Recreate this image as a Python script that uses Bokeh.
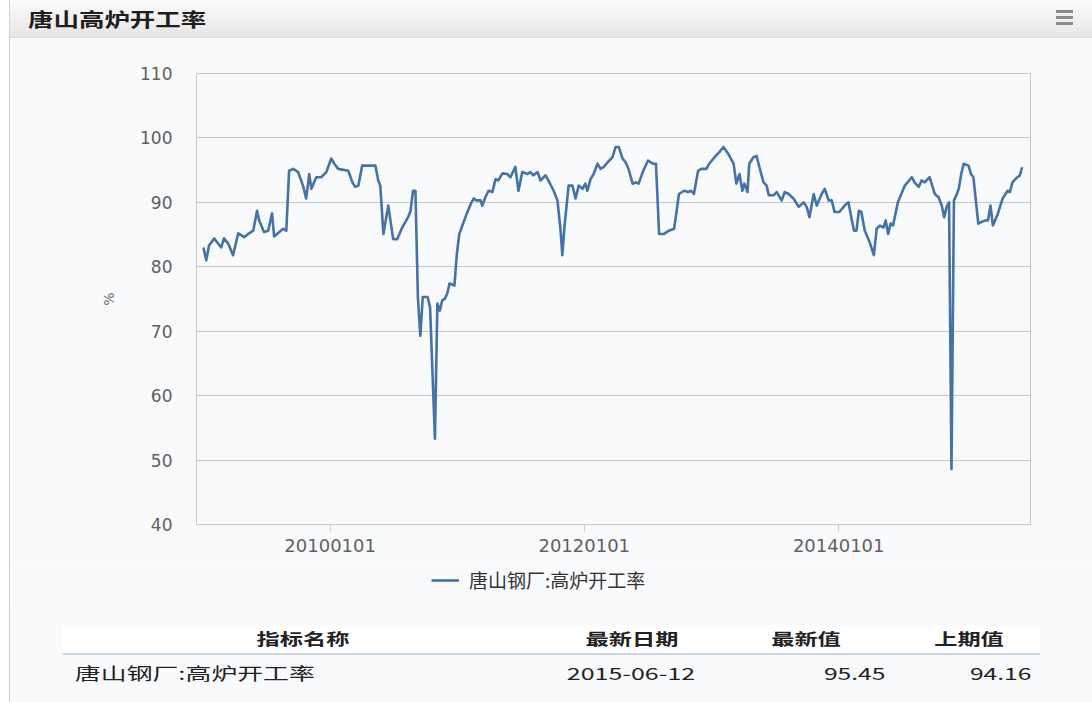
import pandas as pd
from bokeh.plotting import figure
from bokeh.models import (ColumnDataSource, FixedTicker, DatetimeTickFormatter, Range1d,
                          Legend, LegendItem, Div)
from bokeh.layouts import column, row
from bokeh.embed import file_html
from bokeh.resources import INLINE

# ---------------- data ----------------
TITLE = "唐山高炉开工率"
SERIES_NAME = "唐山钢厂:高炉开工率"
UNIT = "%"
Y_TICKS = [40, 50, 60, 70, 80, 90, 100, 110]
X_TICK_DATES = ["2010-01-01", "2012-01-01", "2014-01-01"]
TABLE_HEADERS = ["指标名称", "最新日期", "最新值", "上期值"]
LATEST_DATE = "2015-06-12"
LATEST_VALUE = "95.45"
PREVIOUS_VALUE = "94.16"

dates = [
    "2009-01-02", "2009-01-10", "2009-01-18", "2009-02-02", "2009-02-22", "2009-03-02",
    "2009-03-14", "2009-03-28", "2009-04-12", "2009-04-29", "2009-05-13", "2009-05-25",
    "2009-06-05", "2009-06-11", "2009-06-25", "2009-07-07", "2009-07-18", "2009-07-24",
    "2009-08-08", "2009-08-19", "2009-08-28", "2009-09-05", "2009-09-17", "2009-10-01",
    "2009-10-16", "2009-10-24", "2009-11-02", "2009-11-08", "2009-11-22", "2009-12-06",
    "2009-12-21", "2010-01-04", "2010-01-13", "2010-01-24", "2010-02-22", "2010-03-06",
    "2010-03-14", "2010-03-23", "2010-04-03", "2010-05-11", "2010-05-19", "2010-05-25",
    "2010-06-03", "2010-06-17", "2010-07-01", "2010-07-13", "2010-07-27", "2010-08-13",
    "2010-08-20", "2010-08-27", "2010-09-03", "2010-09-10", "2010-09-17", "2010-09-24",
    "2010-10-08", "2010-10-15", "2010-10-29", "2010-11-05", "2010-11-12", "2010-11-19",
    "2010-11-26", "2010-12-03", "2010-12-10", "2010-12-24", "2010-12-31", "2011-01-07",
    "2011-01-28", "2011-02-11", "2011-02-18", "2011-02-25", "2011-03-09", "2011-03-14",
    "2011-03-23", "2011-04-01", "2011-04-12", "2011-04-21", "2011-04-29", "2011-05-11",
    "2011-05-25", "2011-06-03", "2011-06-17", "2011-06-26", "2011-07-07", "2011-07-22",
    "2011-07-30", "2011-08-08", "2011-08-20", "2011-08-28", "2011-09-12", "2011-09-20",
    "2011-10-05", "2011-10-16", "2011-10-25", "2011-10-30", "2011-11-05", "2011-11-17",
    "2011-11-28", "2011-12-07", "2011-12-16", "2011-12-27", "2012-01-04", "2012-01-10",
    "2012-01-19", "2012-01-28", "2012-02-08", "2012-02-17", "2012-02-26", "2012-03-08",
    "2012-03-22", "2012-03-31", "2012-04-09", "2012-04-20", "2012-04-29", "2012-05-07",
    "2012-05-19", "2012-05-28", "2012-06-05", "2012-06-17", "2012-07-02", "2012-07-16",
    "2012-07-25", "2012-08-03", "2012-08-17", "2012-08-31", "2012-09-15", "2012-09-20",
    "2012-09-29", "2012-10-14", "2012-10-25", "2012-11-03", "2012-11-11", "2012-11-23",
    "2012-12-02", "2012-12-17", "2012-12-25", "2013-01-09", "2013-01-23", "2013-02-04",
    "2013-02-18", "2013-03-05", "2013-03-13", "2013-03-22", "2013-03-30", "2013-04-05",
    "2013-04-14", "2013-04-19", "2013-05-01", "2013-05-10", "2013-05-18", "2013-05-30",
    "2013-06-08", "2013-06-14", "2013-06-28", "2013-07-07", "2013-07-21", "2013-07-30",
    "2013-08-10", "2013-08-24", "2013-09-08", "2013-09-22", "2013-10-01", "2013-10-09",
    "2013-10-21", "2013-10-30", "2013-11-13", "2013-11-22", "2013-12-03", "2013-12-12",
    "2013-12-20", "2014-01-03", "2014-01-18", "2014-01-29", "2014-02-07", "2014-02-14",
    "2014-02-21", "2014-02-28", "2014-03-07", "2014-03-17", "2014-03-31", "2014-04-12",
    "2014-04-20", "2014-04-29", "2014-05-10", "2014-05-16", "2014-05-23", "2014-05-30",
    "2014-06-06", "2014-06-13", "2014-06-20", "2014-07-10", "2014-07-30", "2014-08-07",
    "2014-08-19", "2014-08-27", "2014-09-05", "2014-09-19", "2014-10-04", "2014-10-15",
    "2014-10-24", "2014-10-31", "2014-11-07", "2014-11-14", "2014-11-21", "2014-11-28",
    "2014-12-05", "2014-12-12", "2014-12-19", "2014-12-26", "2015-01-09", "2015-01-16",
    "2015-01-23", "2015-02-06", "2015-02-13", "2015-02-27", "2015-03-06", "2015-03-13",
    "2015-03-20", "2015-04-03", "2015-04-17", "2015-05-01", "2015-05-08", "2015-05-15",
    "2015-05-29", "2015-06-05", "2015-06-12",
]

values = [
    83.0, 81.0, 83.3, 84.4, 83.0, 84.4,
    83.6, 81.8, 85.2, 84.6, 85.2, 85.6,
    88.7, 87.2, 85.4, 85.6, 88.3, 84.7,
    85.4, 85.9, 85.6, 94.9, 95.2, 94.7,
    92.4, 90.6, 94.4, 92.1, 93.9, 93.9,
    94.7, 96.8, 96.0, 95.2, 94.9, 93.1,
    92.4, 92.6, 95.7, 95.7, 93.4, 92.6,
    85.1, 89.5, 84.3, 84.3, 86.1, 87.7,
    88.7, 91.8, 91.8, 75.3, 69.3, 75.3,
    75.3, 73.7, 53.3, 74.3, 73.2, 74.8,
    75.0, 75.8, 77.4, 77.1, 82.0, 85.1,
    88.2, 90.0, 90.6, 90.3, 90.3, 89.5,
    90.8, 91.8, 91.6, 93.6, 93.4, 94.5,
    94.4, 93.9, 95.5, 91.8, 94.7, 94.4,
    94.7, 94.2, 94.7, 93.4, 94.2, 93.4,
    91.8, 90.3, 85.6, 81.8, 86.1, 92.6,
    92.6, 90.6, 92.6, 92.1, 92.9, 91.8,
    93.6, 94.4, 96.0, 95.2, 95.5, 96.2,
    97.0, 98.6, 98.6, 96.8, 96.2, 95.2,
    92.9, 93.1, 92.9, 94.7, 96.5, 96.0,
    96.0, 85.1, 85.1, 85.6, 85.9, 87.7,
    91.3, 91.8, 91.6, 91.8, 91.3, 94.9,
    95.2, 95.2, 96.0, 97.0, 97.8, 98.6,
    97.5, 96.0, 92.9, 94.4, 91.8, 92.9,
    91.6, 96.0, 97.0, 97.2, 95.5, 93.1,
    92.6, 91.1, 91.1, 91.6, 90.3, 91.6,
    91.3, 90.6, 89.3, 90.0, 89.3, 87.7,
    91.3, 89.5, 91.3, 92.1, 90.3, 90.3,
    88.5, 88.5, 89.5, 90.0, 87.4, 85.6,
    85.6, 88.7, 88.5, 85.6, 83.8, 81.8,
    85.9, 86.4, 86.1, 87.2, 85.1, 86.7,
    86.4, 88.2, 90.0, 92.6, 93.9, 93.1,
    92.4, 93.4, 93.1, 93.9, 91.3, 90.8,
    89.5, 87.7, 89.3, 90.0, 48.6, 90.3,
    91.1, 92.1, 94.4, 96.0, 95.7, 94.4,
    93.9, 86.7, 86.9, 87.2, 87.2, 89.5,
    86.4, 88.2, 90.6, 91.8, 91.6, 93.1,
    93.9, 94.16, 95.45,
]

# ---------------- styles ----------------
BG = "#f9fafc"
LINE_COLOR = "#4572A7"
GRID = "#c8c8c8"
TICK_TEXT = "#606060"
CJK = "Noto Sans CJK SC"
LINE_W = 2.6

src = ColumnDataSource(dict(date=pd.to_datetime(dates), value=values))

p = figure(width=1082, height=524, x_axis_type="datetime",
           output_backend="svg", toolbar_location=None,
           x_range=Range1d(pd.Timestamp("2008-12-13"), pd.Timestamp("2015-07-06")),
           y_range=Range1d(40, 110),
           min_border_left=186, min_border_right=62,
           min_border_top=35, min_border_bottom=38, margin=0)
p.background_fill_color = BG
p.border_fill_color = BG
p.outline_line_color = GRID

r = p.line("date", "value", source=src, line_color=LINE_COLOR, line_width=LINE_W,
           line_join="round")

# y axis
p.yaxis.ticker = FixedTicker(ticks=Y_TICKS)
p.ygrid.ticker = FixedTicker(ticks=Y_TICKS)
p.ygrid.grid_line_color = GRID
p.xgrid.visible = False
p.yaxis.axis_line_color = None
p.yaxis.major_tick_line_color = None
p.yaxis.minor_tick_line_color = None
p.yaxis.major_label_text_font = "DejaVu Sans"
p.yaxis.major_label_text_font_size = "17px"
p.yaxis.major_label_text_color = TICK_TEXT
p.yaxis.major_label_standoff = 18
p.yaxis.axis_label = UNIT
p.yaxis.axis_label_text_font = "DejaVu Sans"
p.yaxis.axis_label_text_font_size = "14px"
p.yaxis.axis_label_text_font_style = "normal"
p.yaxis.axis_label_text_color = "#707070"
p.yaxis.axis_label_standoff = 20

# x axis
x_ticks = [pd.Timestamp(d).value / 1e6 for d in X_TICK_DATES]
p.xaxis.ticker = FixedTicker(ticks=x_ticks)
p.xaxis.formatter = DatetimeTickFormatter(years="%Y%m%d", months="%Y%m%d",
                                          days="%Y%m%d", hours="%Y%m%d")
p.xaxis.axis_line_color = GRID
p.xaxis.major_tick_line_color = "#c0d0e0"
p.xaxis.major_tick_in = 0
p.xaxis.major_tick_out = 7
p.xaxis.minor_tick_line_color = None
p.xaxis.major_label_text_font = "DejaVu Sans"
p.xaxis.major_label_text_font_size = "18px"
p.xaxis.major_label_text_color = TICK_TEXT
p.xaxis.major_label_standoff = 7

# ---------------- legend strip (own small figure, no axes) ----------------
# The series is drawn here too, but far outside this strip's ranges (clipped),
# so that the legend swatch uses the real line's style.
lg = figure(width=1082, height=48, output_backend="svg", toolbar_location=None,
            x_range=Range1d(0, 1), y_range=Range1d(0, 1),
            x_axis_location=None, y_axis_location=None,
            min_border=0, margin=0)
lg.grid.visible = False
lg.outline_line_color = None
lg.background_fill_color = BG
lg.border_fill_color = BG
lr = lg.line("date", "value", source=src, line_color=LINE_COLOR, line_width=LINE_W)
legend = Legend(items=[LegendItem(label=SERIES_NAME, renderers=[lr])],
                location=(235, 17), orientation="horizontal",
                border_line_color=None, background_fill_alpha=0,
                label_text_font=CJK, label_text_font_size="19px",
                label_text_color="#333333", glyph_width=28, label_standoff=10,
                padding=4, margin=0)
lg.add_layout(legend)


def text_span(txt, x, cy, size, weight, align, sx, color="#222"):
    h = 28
    if align == "left":
        pos = f"left:{x}px;"
        tf = f"scaleX({sx})"
        origin = "0 50%"
    elif align == "center":
        pos = f"left:{x}px;"
        tf = f"translateX(-50%) scaleX({sx})"
        origin = "50% 50%"
    else:
        pos = f"right:{1082 - x}px;"
        tf = f"scaleX({sx})"
        origin = "100% 50%"
    return (f'<div style="position:absolute;{pos}top:{cy - h / 2}px;height:{h}px;'
            f'line-height:{h}px;white-space:nowrap;font-family:\'{CJK}\';'
            f'font-size:{size}px;font-weight:{weight};color:{color};'
            f'transform:{tf};transform-origin:{origin};">{txt}</div>')


bars = "".join(
    f'<div style="position:absolute;left:1046px;top:{t}px;width:17px;height:3px;'
    f'background:#8c8c8c;"></div>' for t in (10, 16, 22))
title_html = (
    '<div style="position:relative;width:1082px;height:38px;'
    'background:linear-gradient(#fbfbfb,#e6e6e6);box-sizing:border-box;'
    'border-bottom:1px solid #dadada;overflow:hidden;">'
    + text_span(TITLE, 18, 19, 19, "bold", "left", 1.34, "#1e1e1e") + bars + '</div>')
title_div = Div(text=title_html, width=1082, height=38, margin=0)

header_centers = [293, 622, 796, 959]
table_html = (
    f'<div style="position:relative;width:1082px;height:92px;background:{BG};overflow:hidden;">'
    '<div style="position:absolute;left:53px;top:15px;width:977px;height:30px;'
    'background:#ffffff;border-bottom:2px solid #c9d5e1;"></div>'
    + "".join(text_span(h, c, 28, 16, "bold", "center", 1.45, "#222")
              for h, c in zip(TABLE_HEADERS, header_centers))
    + text_span(SERIES_NAME, 65, 63, 17, "normal", "left", 1.52, "#222")
    + text_span(LATEST_DATE, 621, 63, 17, "normal", "center", 1.47, "#222")
    + text_span(LATEST_VALUE, 875, 63, 17, "normal", "right", 1.45, "#222")
    + text_span(PREVIOUS_VALUE, 1021, 63, 17, "normal", "right", 1.45, "#222")
    + '</div>')
table_div = Div(text=table_html, width=1082, height=92, margin=0)

left_div = Div(text='<div style="width:10px;height:702px;background:#ffffff;'
                    'box-sizing:border-box;border-right:1px solid #cfcfcf;"></div>',
               width=10, height=702, margin=0)

layout = row(left_div, column(title_div, p, lg, table_div, spacing=0, margin=0),
             spacing=0, margin=0)

open("out.html", "w").write(file_html(layout, INLINE))
